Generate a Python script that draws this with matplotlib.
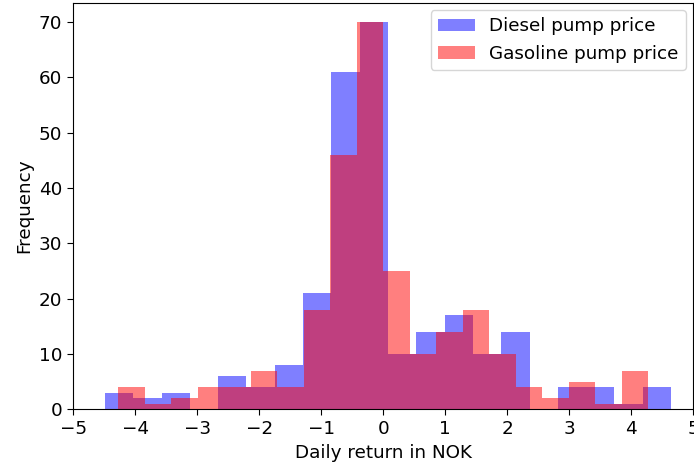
import numpy as np
import matplotlib
matplotlib.use("Agg")
import matplotlib.pyplot as plt

# bin ranges of the two return series (NOK) and counts per bin
diesel_range = (-4.49, 4.641)
gasoline_range = (-4.277, 4.271)
n_bins = 20

diesel_counts = [3, 2, 3, 0, 6, 4, 8, 21, 61, 70, 10, 14, 17, 10, 14, 0, 4, 4, 1, 4]
gasoline_counts = [4, 1, 2, 4, 4, 7, 4, 18, 46, 70, 25, 10, 14, 18, 10, 4, 2, 5, 1, 7]

plt.rcParams['font.size'] = 13.2

fig = plt.figure(figsize=(6.94, 4.69), dpi=100)
ax = fig.add_axes([0.1056, 0.1273, 0.8935, 0.8670])

diesel_edges = np.linspace(*diesel_range, n_bins + 1)
gasoline_edges = np.linspace(*gasoline_range, n_bins + 1)

ax.hist(diesel_edges[:-1], bins=diesel_edges, weights=diesel_counts,
        color='blue', alpha=0.5, label='Diesel pump price')
ax.hist(gasoline_edges[:-1], bins=gasoline_edges, weights=gasoline_counts,
        color='red', alpha=0.5, label='Gasoline pump price')

ax.set_xlim(-5, 5)
ax.set_xticks(range(-5, 6))
ax.tick_params(length=4.5)
ax.set_xlabel('Daily return in NOK')
ax.set_ylabel('Frequency')
ax.legend(loc='upper right', borderaxespad=0.4)

fig.savefig('out.png', dpi=100)
